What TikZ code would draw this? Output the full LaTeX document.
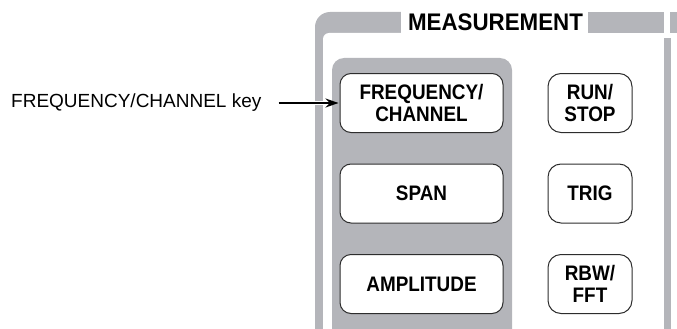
\documentclass[tikz,border=0pt]{standalone}
\usepackage{fontspec}
\setmainfont{Liberation Sans}
\newfontfamily\keyfont[FakeStretch=0.9]{Liberation Sans Bold}
\newfontfamily\titlefont[FakeStretch=0.93]{Liberation Sans Bold}
\usepackage{tikz}
\usetikzlibrary{shapes,arrows.meta}
\definecolor{panelgray}{RGB}{180,181,186}
\definecolor{keyline}{RGB}{45,45,45}
\tikzstyle{keybig} = [rectangle, draw=keyline, fill=white, line width=1pt,
    rounded corners=11pt, minimum width=163pt, minimum height=59pt,
    align=center, font=\keyfont\fontsize{21}{22}\selectfont]
\tikzstyle{keysmall} = [keybig, minimum width=84pt, rounded corners=13pt]
\tikzstyle{line} = [draw, line width=1.4pt, -{Stealth[length=13pt,width=9pt]}]

\begin{document}
\begin{tikzpicture}[x=1pt, y=-1pt, node distance=90.5pt]
    \useasboundingbox (0,0) rectangle (677,329);
    \clip (0,0) rectangle (677,329);
    % Panel frame
    \fill[panelgray, rounded corners=15pt] (315,12) rectangle (440,345);
    \fill[white, rounded corners=6pt] (323,33) rectangle (450,345);
    \fill[white] (401,0) rectangle (450,34);
    \fill[panelgray] (588,12) rectangle (664,33);
    \fill[panelgray] (664,38) rectangle (671,329);
    \fill[panelgray] (670,12) rectangle (677,33);
    \fill[panelgray, rounded corners=12pt] (332,58) rectangle (512,345);
    \node[anchor=base, font=\titlefont\fontsize{24}{27}\selectfont] (measurement) at (495.5,31) {MEASUREMENT};

    % Place keys
    \node [keybig] (freq_channel) at (421.5,103) {FREQUENCY/\\CHANNEL};
    \node [keybig, below of=freq_channel] (span) {SPAN};
    \node [keybig, below of=span] (amplitude) {AMPLITUDE};
    \node [keysmall, right of=freq_channel, node distance=168.5pt] (run_stop) {RUN/\\STOP};
    \node [keysmall, below of=run_stop] (trig) {TRIG};
    \node [keysmall, below of=trig] (rbw_fft) {RBW/\\FFT};

    \node [anchor=west, inner sep=0pt, font=\fontsize{19}{22}\selectfont] (freq_label) at (11,103) {FREQUENCY/CHANNEL key};

    \path [line, shorten <=17pt, shorten >=1pt,
        preaction={draw=white, line width=4.5pt, -, shorten >=14pt}] (freq_label) -- (freq_channel);
\end{tikzpicture}
\end{document}
